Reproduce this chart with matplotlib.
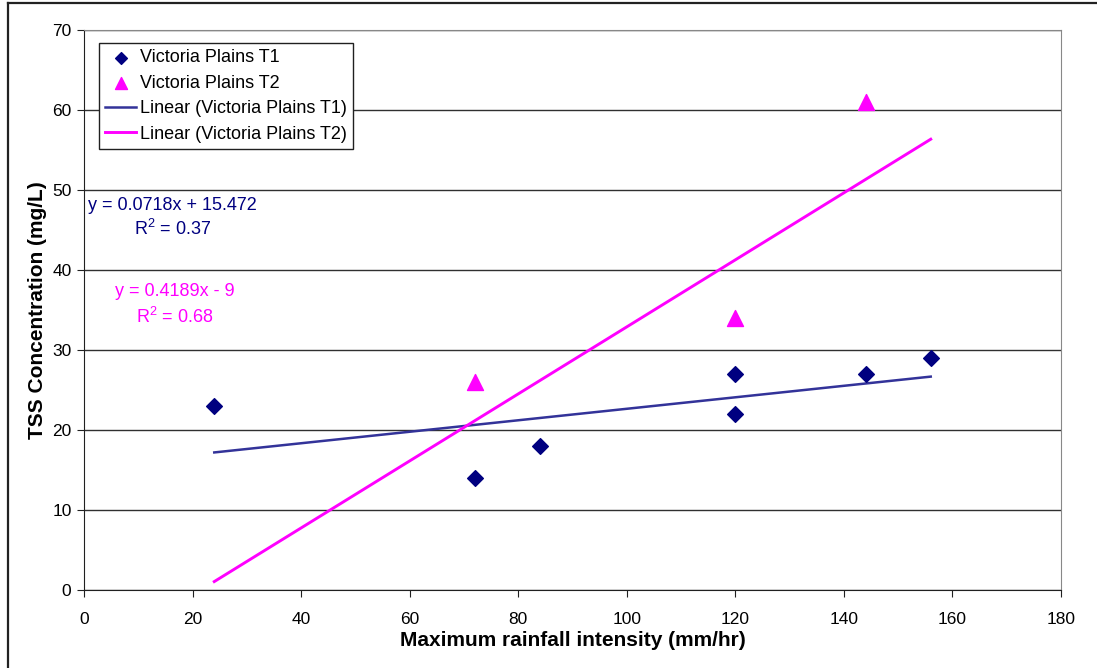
import numpy as np
import matplotlib
matplotlib.use('Agg')
import matplotlib.pyplot as plt
from matplotlib.lines import Line2D

plt.rcParams['font.family'] = ['Liberation Sans', 'DejaVu Sans']
plt.rcParams['mathtext.fontset'] = 'custom'
plt.rcParams['mathtext.rm'] = 'Liberation Sans'
plt.rcParams['mathtext.default'] = 'regular'

# datos
x_t1 = [24, 72, 84, 120, 120, 144, 156]
y_t1 = [23, 14, 18, 27, 22, 27, 29]
x_t2 = [72, 120, 144]
y_t2 = [26, 34, 61]

# ajustes lineales (de la hoja)
m1, b1, r2_1 = 0.0718, 15.472, 0.37
m2, b2, r2_2 = 0.4189, -9, 0.68
x_fit = np.array([24, 156])

fig = plt.figure(figsize=(10.97, 6.68), dpi=100)
ax = fig.add_axes([84/1097, 1 - 590/668, 977/1097, 560/668])

ax.set_xlim(0, 180)
ax.set_ylim(0, 70)
ax.set_xticks(np.arange(0, 181, 20))
ax.set_yticks(np.arange(0, 71, 10))
ax.yaxis.grid(True, color='#303030', lw=1)
ax.set_axisbelow(True)

ax.scatter(x_t1, y_t1, marker='D', s=8**2, color='#000080', zorder=3,
           label='Victoria Plains T1')
ax.scatter(x_t2, y_t2, marker='^', s=11.5**2, color='#FF00FF', zorder=3,
           label='Victoria Plains T2')
ax.plot(x_fit, m1 * x_fit + b1, color='#333399', lw=1.8,
        label='Linear (Victoria Plains T1)', zorder=2)
ax.plot(x_fit, m2 * x_fit + b2, color='#FF00FF', lw=2.1,
        label='Linear (Victoria Plains T2)', zorder=2)

ax.text(16.3, 48.1, f'y = {m1}x + {b1}', color='#000080', fontsize=13,
        ha='center', va='center')
ax.text(16.3, 45.1, f'R$^2$ = {r2_1}', color='#000080', fontsize=13,
        ha='center', va='center')
ax.text(16.7, 37.25, f'y = {m2}x - {abs(b2)}', color='#FF00FF', fontsize=13,
        ha='center', va='center')
ax.text(16.7, 34.1, f'R$^2$ = {r2_2}', color='#FF00FF', fontsize=13,
        ha='center', va='center')

for s in ['left', 'bottom']:
    ax.spines[s].set_color('#202020')
for s in ['top', 'right']:
    ax.spines[s].set_color('#888888')
ax.tick_params(axis='both', labelsize=12.5, length=5, color='#202020',
               direction='out')
ax.tick_params(axis='x', pad=10.5)
ax.tick_params(axis='y', pad=4)

ax.set_xlabel('Maximum rainfall intensity (mm/hr)', fontsize=15, fontweight='bold')
ax.xaxis.set_label_coords(0.5, -0.091)
ax.xaxis.label.set_verticalalignment('center')
ax.set_ylabel('TSS Concentration (mg/L)', fontsize=15, fontweight='bold')
ax.yaxis.set_label_coords(-0.0471, 0.5)
ax.yaxis.label.set_verticalalignment('center')

leg = ax.legend(loc='upper left', bbox_to_anchor=(15/977, 1 - 13/560),
                borderaxespad=0, fontsize=13, frameon=True, fancybox=False,
                edgecolor='#202020', framealpha=1, handlelength=1.7,
                handletextpad=0.2, labelspacing=0.47, borderpad=0.35,
                scatterpoints=1, markerscale=0.75)
leg.get_frame().set_linewidth(1)

# marco del gráfico
fig.add_artist(Line2D([8/1097, 8/1097], [0, 1 - 3/668], transform=fig.transFigure,
                      color='#222222', lw=1.6))
fig.add_artist(Line2D([8/1097, 1], [1 - 3/668, 1 - 3/668], transform=fig.transFigure,
                      color='#222222', lw=1.6))

fig.savefig('out.png', dpi=100)
